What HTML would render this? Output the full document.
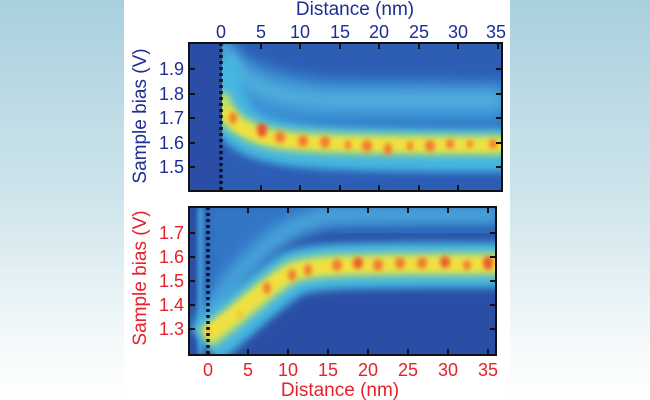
<!DOCTYPE html><html><head><style>
html,body{margin:0;padding:0;width:650px;height:400px;overflow:hidden}
body{background:linear-gradient(#a9d0de 0%,#cfe5ec 50%,#f4f9fa 85%,#fff 100%)}
svg{position:absolute;left:0;top:0}
text{font-family:"Liberation Sans",sans-serif}
</style></head><body>
<svg width="650" height="400" viewBox="0 0 650 400">
<defs>
<filter id="b4" x="-20%" y="-50%" width="140%" height="200%"><feGaussianBlur stdDeviation="4"/></filter>
<filter id="b2" x="-50%" y="-50%" width="200%" height="200%"><feGaussianBlur stdDeviation="2.5"/></filter>
<filter id="b7" x="-20%" y="-50%" width="140%" height="200%"><feGaussianBlur stdDeviation="7"/></filter>
<clipPath id="c1"><rect x="189" y="43" width="313" height="148"/></clipPath>
<clipPath id="c1b"><rect x="222" y="43" width="280" height="148"/></clipPath>
<clipPath id="c2"><rect x="189" y="207" width="307" height="148"/></clipPath>
</defs>
<rect x="124" y="0" width="386" height="400" fill="#fff"/>
<!-- TOP -->
<g clip-path="url(#c1)">
<rect x="189" y="43" width="313" height="148" fill="#2a4ea5"/>
</g>
<g clip-path="url(#c1b)">
<path d="M221,43 L502,43 L502,191 L221,191Z" fill="#2d5db5"/>
<path d="M222,40 C240,60 280,75 330,80 L505,82 L505,125 L222,125Z" fill="#3b90d4" filter="url(#b7)"/>
<path d="M222,40 C232,80 260,95 320,100 L505,100" stroke="#55b5de" stroke-width="14" fill="none" filter="url(#b7)"/>
<path d="M215,60 C224,120 240,130 262,138 C290,146 320,150 505,150" stroke="#45b6e0" stroke-width="44" fill="none" filter="url(#b4)"/>
<path d="M218,95 C226,120 240,128 262,136 C290,143 320,145 505,145" stroke="#c8e25a" stroke-width="20" fill="none" filter="url(#b4)"/>
<path d="M226,110 C232,124 244,130 262,136 C290,143 320,145 505,145" stroke="#f2e040" stroke-width="11" fill="none" filter="url(#b2)"/>
<g fill="#f07a2e" filter="url(#b2)">
<ellipse cx="233" cy="118" rx="4" ry="6"/><ellipse cx="262" cy="130" rx="5" ry="7" fill="#e8502a"/>
<ellipse cx="280" cy="137" rx="5" ry="6"/><ellipse cx="303" cy="141" rx="5" ry="6"/>
<ellipse cx="325" cy="142" rx="5" ry="6"/><ellipse cx="348" cy="145" rx="3" ry="5"/>
<ellipse cx="367" cy="146" rx="5" ry="6"/><ellipse cx="388" cy="149" rx="4" ry="6"/>
<ellipse cx="410" cy="146" rx="3" ry="5"/><ellipse cx="430" cy="146" rx="5" ry="6"/>
<ellipse cx="450" cy="144" rx="4" ry="5"/><ellipse cx="470" cy="144" rx="3" ry="4"/>
<ellipse cx="493" cy="144" rx="4" ry="5"/></g>
</g>
<line x1="221" y1="43" x2="221" y2="191" stroke="#111" stroke-width="3.5" stroke-dasharray="3,3"/>
<rect x="189" y="43" width="313" height="148" fill="none" stroke="#111" stroke-width="2"/>
<g stroke="#111" stroke-width="2">
<line x1="189" y1="69" x2="195" y2="69"/><line x1="189" y1="94" x2="195" y2="94"/><line x1="189" y1="118" x2="195" y2="118"/><line x1="189" y1="143" x2="195" y2="143"/><line x1="189" y1="167" x2="195" y2="167"/>
<line x1="502" y1="69" x2="496" y2="69"/><line x1="502" y1="94" x2="496" y2="94"/><line x1="502" y1="118" x2="496" y2="118"/><line x1="502" y1="143" x2="496" y2="143"/><line x1="502" y1="167" x2="496" y2="167"/>
<line x1="261" y1="43" x2="261" y2="49"/><line x1="300" y1="43" x2="300" y2="49"/><line x1="340" y1="43" x2="340" y2="49"/><line x1="379" y1="43" x2="379" y2="49"/><line x1="419" y1="43" x2="419" y2="49"/><line x1="458" y1="43" x2="458" y2="49"/><line x1="498" y1="43" x2="498" y2="49"/>
<line x1="261" y1="191" x2="261" y2="185"/><line x1="300" y1="191" x2="300" y2="185"/><line x1="340" y1="191" x2="340" y2="185"/><line x1="379" y1="191" x2="379" y2="185"/><line x1="419" y1="191" x2="419" y2="185"/><line x1="458" y1="191" x2="458" y2="185"/>
</g>
<g fill="#1f2e95" font-size="18" text-anchor="middle">
<text x="355" y="15" font-size="19">Distance (nm)</text>
<text x="221" y="38">0</text><text x="261" y="38">5</text><text x="300" y="38">10</text><text x="340" y="38">15</text><text x="379" y="38">20</text><text x="419" y="38">25</text><text x="458" y="38">30</text><text x="496" y="38">35</text>
<g text-anchor="end"><text x="184" y="75">1.9</text><text x="184" y="100">1.8</text><text x="184" y="124">1.7</text><text x="184" y="149">1.6</text><text x="184" y="173">1.5</text></g>
<text transform="translate(146,116) rotate(-90)" font-size="19">Sample bias (V)</text>
</g>
<!-- BOTTOM -->
<g clip-path="url(#c2)">
<rect x="189" y="207" width="307" height="148" fill="#2a4ea5"/>
<path d="M205,355 C230,300 260,260 290,240 C320,225 380,225 500,225 L500,200 L205,200Z" fill="#3276c6" filter="url(#b7)"/>
<path d="M200,330 C240,260 280,225 330,215 L500,215" stroke="#4aa6dc" stroke-width="18" fill="none" filter="url(#b7)"/>
<path d="M330,230 L500,232" stroke="#2f6cc0" stroke-width="12" fill="none" filter="url(#b4)"/>
<rect x="198" y="207" width="5" height="148" fill="#45a8dc" filter="url(#b2)"/>
<path d="M205,345 C230,325 260,295 290,275 C310,265 340,265 505,265" stroke="#45b6e0" stroke-width="46" fill="none" filter="url(#b4)"/>
<path d="M205,338 C230,322 260,292 290,273 C310,265 340,264 505,264" stroke="#cfe35a" stroke-width="22" fill="none" filter="url(#b4)"/>
<path d="M207,334 C230,320 260,290 290,273 C310,265 340,264 505,264" stroke="#f2e040" stroke-width="12" fill="none" filter="url(#b2)"/>
<g fill="#f07a2e" filter="url(#b2)">
<ellipse cx="208" cy="332" rx="3" ry="5" fill="#f5c030"/><ellipse cx="240" cy="315" rx="3" ry="4" fill="#f5c030"/>
<ellipse cx="267" cy="288" rx="4" ry="6"/><ellipse cx="292" cy="275" rx="4" ry="6"/>
<ellipse cx="308" cy="270" rx="4" ry="6"/><ellipse cx="337" cy="265" rx="5" ry="6"/>
<ellipse cx="358" cy="263" rx="5" ry="6" fill="#e85a2a"/><ellipse cx="378" cy="265" rx="5" ry="6"/>
<ellipse cx="400" cy="263" rx="5" ry="6"/><ellipse cx="422" cy="263" rx="5" ry="6"/>
<ellipse cx="445" cy="262" rx="5" ry="6" fill="#e85a2a"/><ellipse cx="467" cy="265" rx="4" ry="5"/>
<ellipse cx="488" cy="263" rx="5" ry="7" fill="#e85a2a"/></g>
</g>
<line x1="208" y1="207" x2="208" y2="355" stroke="#111" stroke-width="3.5" stroke-dasharray="3,3"/>
<rect x="189" y="207" width="307" height="148" fill="none" stroke="#111" stroke-width="2"/>
<g stroke="#111" stroke-width="2">
<line x1="189" y1="233" x2="195" y2="233"/><line x1="189" y1="257" x2="195" y2="257"/><line x1="189" y1="281" x2="195" y2="281"/><line x1="189" y1="305" x2="195" y2="305"/><line x1="189" y1="329" x2="195" y2="329"/>
<line x1="496" y1="233" x2="490" y2="233"/><line x1="496" y1="257" x2="490" y2="257"/><line x1="496" y1="281" x2="490" y2="281"/><line x1="496" y1="305" x2="490" y2="305"/><line x1="496" y1="329" x2="490" y2="329"/>
<line x1="248" y1="207" x2="248" y2="213"/><line x1="288" y1="207" x2="288" y2="213"/><line x1="328" y1="207" x2="328" y2="213"/><line x1="368" y1="207" x2="368" y2="213"/><line x1="408" y1="207" x2="408" y2="213"/><line x1="448" y1="207" x2="448" y2="213"/><line x1="488" y1="207" x2="488" y2="213"/>
<line x1="248" y1="355" x2="248" y2="349"/><line x1="288" y1="355" x2="288" y2="349"/><line x1="328" y1="355" x2="328" y2="349"/><line x1="368" y1="355" x2="368" y2="349"/><line x1="408" y1="355" x2="408" y2="349"/><line x1="448" y1="355" x2="448" y2="349"/><line x1="488" y1="355" x2="488" y2="349"/>
</g>
<g fill="#e8202a" font-size="18" text-anchor="middle">
<text x="208" y="376">0</text><text x="248" y="376">5</text><text x="288" y="376">10</text><text x="328" y="376">15</text><text x="368" y="376">20</text><text x="408" y="376">25</text><text x="448" y="376">30</text><text x="488" y="376">35</text>
<text x="340" y="396" font-size="19">Distance (nm)</text>
<g text-anchor="end"><text x="184" y="239">1.7</text><text x="184" y="263">1.6</text><text x="184" y="287">1.5</text><text x="184" y="311">1.4</text><text x="184" y="335">1.3</text></g>
<text transform="translate(146,278) rotate(-90)" font-size="19">Sample bias (V)</text>
</g>
</svg>
</body></html>
